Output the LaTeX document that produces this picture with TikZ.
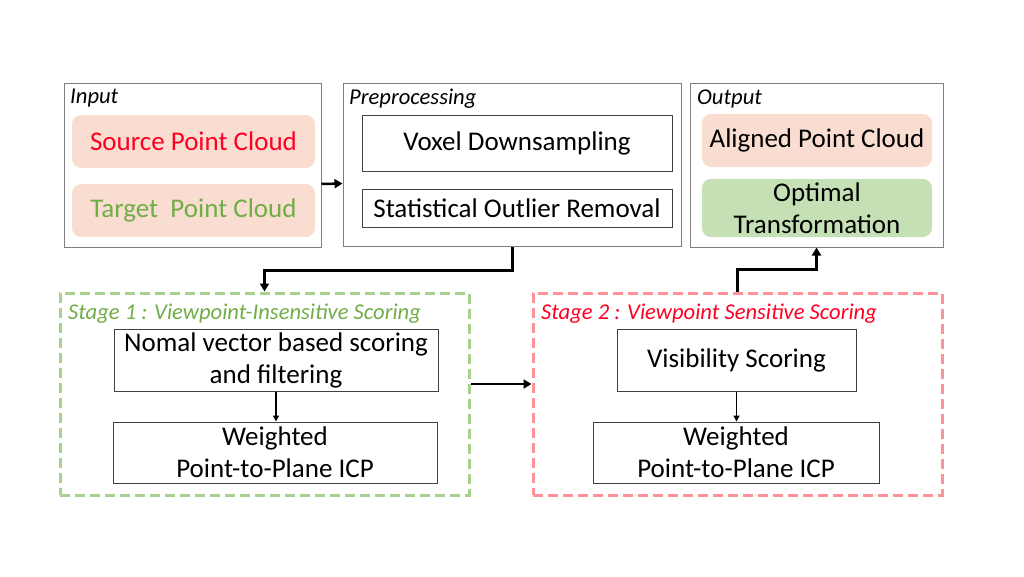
\documentclass[tikz,border=0pt]{standalone}
\usepackage{fontspec}
\setmainfont{Carlito}
\usetikzlibrary{calc,arrows.meta}
\definecolor{peach}{HTML}{F9DDD0}
\definecolor{lgreen}{HTML}{C5E0B4}
\definecolor{tgreen}{HTML}{70AD47}
\definecolor{tred}{HTML}{FF0022}
\definecolor{s1border}{HTML}{A9D18E}
\definecolor{s2border}{HTML}{FF9199}
\definecolor{outerb}{HTML}{7F7F7F}
\definecolor{innerb}{HTML}{404040}
\tikzset{
  outerbox/.style={draw=outerb, line width=1pt, inner sep=0pt},
  procbox/.style={draw=innerb, line width=1pt, align=center, inner sep=0pt, font=\fontsize{27}{32}\selectfont},
  softbox/.style={rounded corners=9pt, align=center, inner sep=0pt, font=\fontsize{27}{32}\selectfont},
  stagebox/.style={dash pattern=on 10pt off 5pt, line width=3pt, inner sep=0pt},
  grouplabel/.style={font=\fontsize{22.6}{26}\selectfont\itshape, inner sep=0pt, anchor=north west},
  bigarrow/.style={line width=3pt, -{Triangle[length=8pt,width=9pt]}},
  smallarrow/.style={line width=1.4pt, -{Triangle[length=6pt,width=6pt]}},
}
\begin{document}
\begin{tikzpicture}[x=1pt,y=-1pt]
\useasboundingbox (0,0) rectangle (1024,576);
% Input group
\node[outerbox, minimum width=257pt, minimum height=164pt] (input) at (192.5,165) {};
\node[grouplabel] (inlab) at (70,88.5) {Input};
\node[softbox, fill=peach, text=tred, minimum width=243pt, minimum height=53pt] (source) at (193.5,141.5) {Source Point Cloud};
\node[softbox, fill=peach, text=tgreen, minimum width=243pt, minimum height=53pt] (target) at (193.5,210.5) {Target\ \ Point Cloud};
% Preprocessing group
\node[outerbox, minimum width=338pt, minimum height=163pt] (prep) at (512,164.5) {};
\node[grouplabel] (preplab) at (349,88.5) {Preprocessing};
\node[procbox, minimum width=310pt, minimum height=56pt] (voxel) at (517,143) {Voxel Downsampling};
\node[procbox, minimum width=310pt, minimum height=38pt] (stat) at (517,208) {Statistical Outlier Removal};
% Output group
\node[outerbox, minimum width=253pt, minimum height=164pt] (output) at (816.5,165) {};
\node[grouplabel] (outlab) at (697,89.5) {Output};
\node[softbox, fill=peach, minimum width=230pt, minimum height=53pt] (aligned) at (817,140.5) {Aligned Point Cloud};
\node[softbox, fill=lgreen, minimum width=230pt, minimum height=58pt] (optimal) at (817,208) {Optimal\\Transformation};
% Stage 1
\node[stagebox, draw=s1border, minimum width=409pt, minimum height=202pt] (stage1) at (264.5,394) {};
\node[grouplabel, text=tgreen] (s1lab) at (68,304) {Stage 1 : Viewpoint-Insensitive Scoring};
\node[procbox, minimum width=324pt, minimum height=62pt] (nomal) at (276,360) {Nomal vector based scoring\\and filtering};
\node[procbox, minimum width=324pt, minimum height=61pt] (w1) at (275,452.5) {Weighted\\Point-to-Plane ICP};
% Stage 2
\node[stagebox, draw=s2border, minimum width=409pt, minimum height=202pt] (stage2) at (737.5,394) {};
\node[grouplabel, text=tred] (s2lab) at (541,304) {Stage 2 : Viewpoint Sensitive Scoring};
\node[procbox, minimum width=239pt, minimum height=62pt] (vis) at (736.5,360) {Visibility Scoring};
\node[procbox, minimum width=286pt, minimum height=61pt] (w2) at (736,452.5) {Weighted\\Point-to-Plane ICP};
% Connectors
\draw[bigarrow, line width=2.5pt] ($(input.east)+(0,19)$) -- ($(prep.west)+(0,19)$);
\draw[bigarrow] (prep.south) -- ++(0,23.5) -| (stage1.north);
\draw[bigarrow, line width=2.5pt] ($(stage1.east)+(0,-10)$) -- ($(stage2.west)+(0,-10)$);
\draw[bigarrow] (stage2.north) -- ++(0,-22) -| (output.south);
\draw[smallarrow] (nomal.south) -- (w1.north -| nomal.south);
\draw[smallarrow] (vis.south) -- (w2.north -| vis.south);
\end{tikzpicture}
\end{document}
